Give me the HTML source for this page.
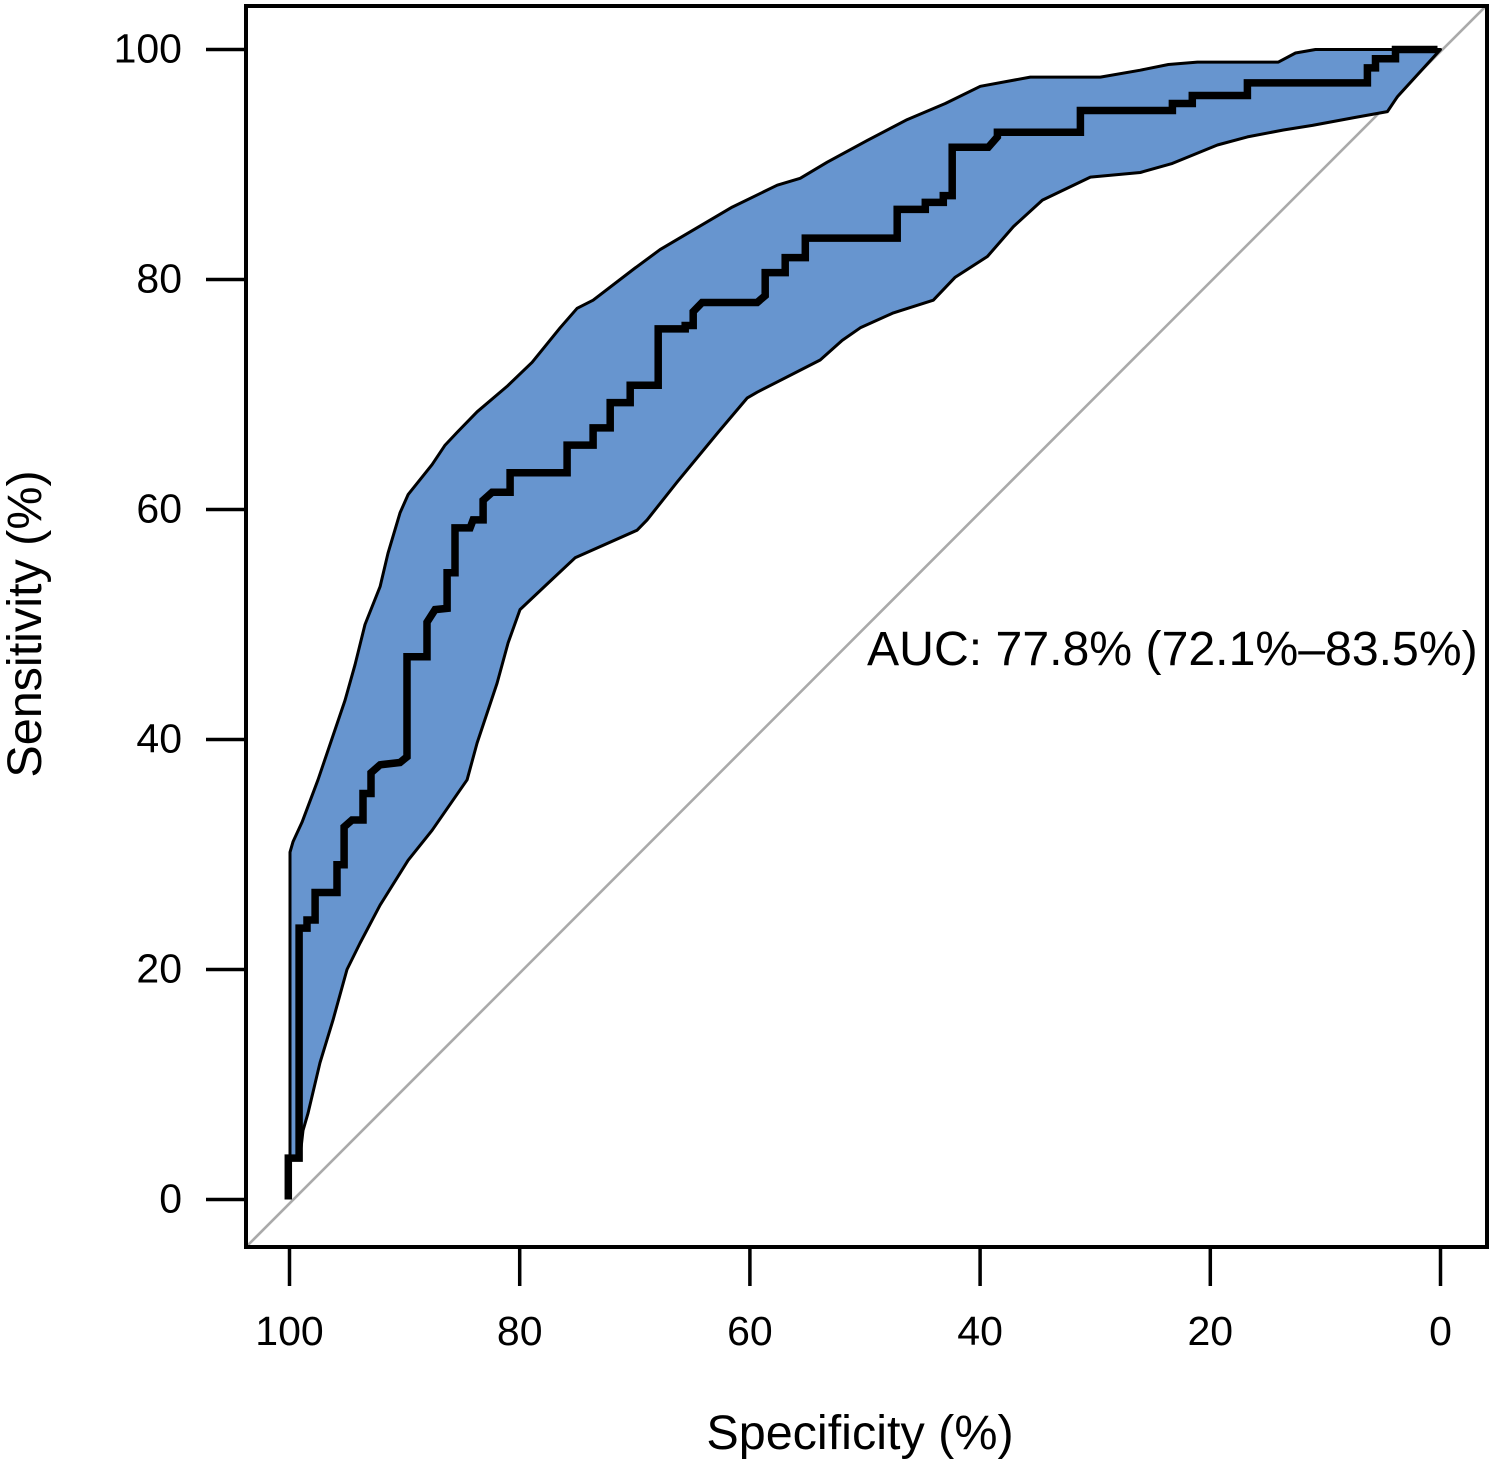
<!DOCTYPE html>
<html lang="en">
<head>
<meta charset="utf-8">
<title>ROC curve</title>
<style>
html,body{margin:0;padding:0;background:#fff;}
body{width:1493px;height:1460px;overflow:hidden;}
svg{display:block;font-family:"Liberation Sans",Arial,sans-serif;}
</style>
</head>
<body>
<svg id="chart" xmlns="http://www.w3.org/2000/svg" width="1493" height="1460" viewBox="0 0 1493 1460">
  <rect x="0" y="0" width="1493" height="1460" fill="#ffffff"/>
  <g id="plot-layer"></g>
  <rect x="246" y="6" width="1241" height="1241" fill="none" stroke="#000" stroke-width="4"/>
  <g id="x-axis"></g>
  <g id="y-axis"></g>
  <text x="860" y="1449" font-size="48.5" text-anchor="middle" fill="#000">Specificity (%)</text>
  <text transform="translate(41,624) rotate(-90)" font-size="48.5" text-anchor="middle" fill="#000">Sensitivity (%)</text>
  <text x="867" y="665" font-size="48.2" fill="#000">AUC: 77.8% (72.1%–83.5%)</text>
</svg>
<script>
const xTicks = [100, 80, 60, 40, 20, 0];
const yTicks = [0, 20, 40, 60, 80, 100];

const rocSpecificity = [100.1,100.1,99.17,99.17,98.48,98.48,97.78,97.78,95.87,95.87,95.26,95.26,94.57,93.61,93.61,92.92,92.92,92.13,90.4,89.79,89.79,88.05,88.05,87.35,86.31,86.31,85.62,85.62,84.31,84.05,83.18,83.18,82.4,80.83,80.83,75.88,75.88,73.62,73.62,72.14,72.14,70.4,70.4,67.97,67.97,65.62,65.62,64.93,64.93,64.15,59.37,58.67,58.67,56.93,56.93,55.19,55.19,47.2,47.2,44.76,44.76,43.2,43.2,42.42,42.42,39.29,38.5,38.5,31.29,31.29,23.29,23.29,21.56,21.56,16.78,16.78,6.35,6.35,5.65,5.65,3.91,3.91,0.26];
const rocSensitivity = [0,3.6,3.6,23.6,23.6,24.3,24.3,26.7,26.7,29.1,29.1,32.4,33,33,35.3,35.3,37.1,37.8,38,38.5,47.2,47.2,50.2,51.3,51.4,54.5,54.5,58.4,58.4,59.1,59.1,60.8,61.5,61.5,63.2,63.2,65.6,65.6,67.1,67.1,69.3,69.3,70.8,70.8,75.7,75.7,76,76,77.2,78,78,78.6,80.6,80.6,81.9,81.9,83.6,83.6,86.1,86.1,86.7,86.7,87.3,87.3,91.5,91.5,92.4,92.8,92.8,94.7,94.7,95.3,95.3,96,96,97.1,97.1,98.4,98.4,99.2,99.2,100,100];

const upperSpecificity = [99.96,99.96,99.7,98.91,97.52,95.18,94.31,93.44,92.13,91.44,90.4,89.7,87.61,86.48,85.44,83.7,81.1,78.92,76.49,75.01,73.62,69.97,67.8,61.54,57.63,55.63,53.28,49.8,46.33,43.02,39.98,35.64,29.55,26.08,23.64,21.12,14.08,12.6,10.86,0];
const upperSensitivity = [3.7,30.2,31.1,32.8,36.5,43.4,46.5,50,53.3,56.2,59.7,61.3,63.9,65.6,66.7,68.5,70.7,72.8,75.8,77.5,78.2,81,82.6,86.3,88.2,88.8,90.2,92.1,93.9,95.3,96.8,97.6,97.6,98.2,98.7,98.9,98.9,99.7,100,100];

const lowerSpecificity = [99.09,98.83,98.39,97.35,96.22,95,93.87,92.13,89.7,87.61,84.57,83.7,81.96,81.01,79.97,77.53,75.19,69.8,68.93,66.32,62.76,60.23,59.37,53.89,51.98,50.41,47.54,44.07,42.16,39.37,37.11,34.59,30.42,26.08,23.29,19.38,16.78,13.65,11.13,7.39,4.61,3.74,0];
const lowerSensitivity = [3.7,6,7.5,11.9,15.6,20,22.3,25.6,29.5,32.1,36.5,39.7,44.9,48.4,51.3,53.6,55.8,58.2,59.1,62.4,66.7,69.7,70.2,73,74.7,75.8,77.1,78.2,80.2,82,84.6,86.9,88.9,89.3,90.1,91.7,92.4,93,93.4,94.1,94.6,95.9,100];

const diagonalSpecificity = [103.78, -3.97];
const diagonalSensitivity = [-4.13, 103.8];

const SVG_NS = 'http://www.w3.org/2000/svg';
function xScale(spec) { return 1440.5 - spec * 11.51; }
function yScale(sens) { return 1199.5 - sens * 11.5; }
function points(specs, senss) {
  return specs.map(function (s, i) { return xScale(s).toFixed(1) + ',' + yScale(senss[i]).toFixed(1); }).join(' ');
}
function make(tag, parent) {
  const el = document.createElementNS(SVG_NS, tag);
  parent.appendChild(el);
  return el;
}

const plotLayer = document.getElementById('plot-layer');
const xAxis = document.getElementById('x-axis');
const yAxis = document.getElementById('y-axis');

const diagonal = make('polyline', plotLayer);


diagonal.setAttribute('points', points(diagonalSpecificity, diagonalSensitivity));
diagonal.setAttribute('fill', 'none');
diagonal.setAttribute('stroke', '#aaaaaa');
diagonal.setAttribute('stroke-width', '2.6');

const band = make('polygon', plotLayer);


band.setAttribute('points', points(upperSpecificity, upperSensitivity) + ' ' + points(lowerSpecificity.slice().reverse(), lowerSensitivity.slice().reverse()));
band.setAttribute('fill', '#6795cf');
band.setAttribute('stroke', '#000');
band.setAttribute('stroke-width', '3');
band.setAttribute('stroke-linejoin', 'round');

const rocLine = make('polyline', plotLayer);


rocLine.setAttribute('points', points(rocSpecificity, rocSensitivity));
rocLine.setAttribute('fill', 'none');
rocLine.setAttribute('stroke', '#000');
rocLine.setAttribute('stroke-width', '7.5');
rocLine.setAttribute('stroke-linejoin', 'miter');

xTicks.forEach(function (value) {
  const tick = make('line', xAxis);
  
  
  tick.setAttribute('x1', xScale(value));
  tick.setAttribute('x2', xScale(value));
  tick.setAttribute('y1', 1247);
  tick.setAttribute('y2', 1286);
  tick.setAttribute('stroke', '#000');
  tick.setAttribute('stroke-width', '3.5');
  const label = make('text', xAxis);
  
  
  label.setAttribute('x', xScale(value));
  label.setAttribute('y', 1345);
  label.setAttribute('font-size', '41');
  label.setAttribute('text-anchor', 'middle');
  label.setAttribute('fill', '#000');
  label.textContent = value;
});

yTicks.forEach(function (value) {
  const tick = make('line', yAxis);
  
  
  tick.setAttribute('x1', 206);
  tick.setAttribute('x2', 246);
  tick.setAttribute('y1', yScale(value));
  tick.setAttribute('y2', yScale(value));
  tick.setAttribute('stroke', '#000');
  tick.setAttribute('stroke-width', '3.5');
  const label = make('text', yAxis);
  
  
  label.setAttribute('x', 182);
  label.setAttribute('y', yScale(value) + 13);
  label.setAttribute('font-size', '41');
  label.setAttribute('text-anchor', 'end');
  label.setAttribute('fill', '#000');
  label.textContent = value;
});
</script>
</body>
</html>
